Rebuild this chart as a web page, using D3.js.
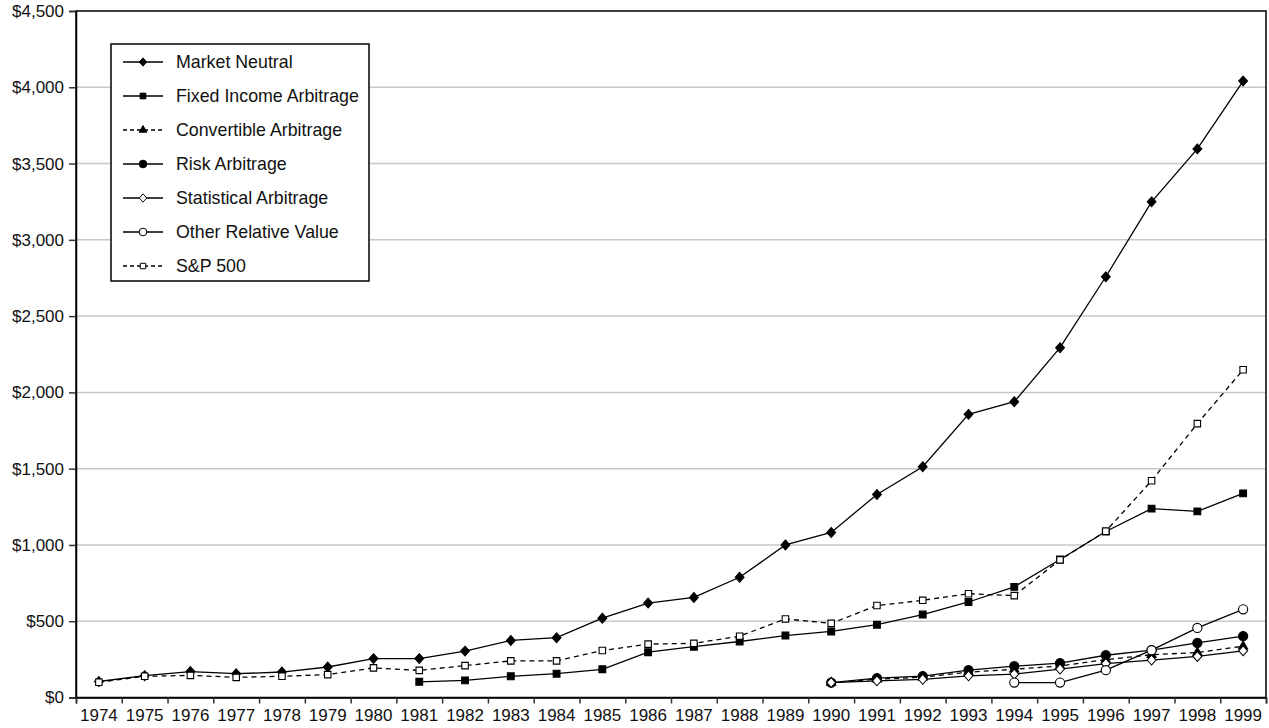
<!DOCTYPE html>
<html>
<head>
<meta charset="utf-8">
<script src="https://cdn.jsdelivr.net/npm/d3@7"></script>
<style>
  html, body { margin: 0; padding: 0; background: #fff; }
  svg { display: block; font-family: "Liberation Sans", Arial, Helvetica, sans-serif; }
</style>
</head>
<body>
<svg id="chart" width="1269" height="728"></svg>
<script>
// ---------- DATA ----------
const years = ["1974","1975","1976","1977","1978","1979","1980","1981","1982","1983","1984","1985","1986","1987","1988","1989","1990","1991","1992","1993","1994","1995","1996","1997","1998","1999"];
const yTicks = [0,500,1000,1500,2000,2500,3000,3500,4000,4500];

const marketNeutral = [105,143,170,156,167,200,255,255,304,374,392,520,619,656,788,1000,1082,1331,1513,1856,1939,2293,2758,3249,3596,4041];
const fixedIncomeArb = [null,null,null,null,null,null,null,103,112,139,156,185,297,333,367,406,433,477,544,626,725,905,1088,1238,1220,1338];
const convertibleArb = [null,null,null,null,null,null,null,null,null,null,null,null,null,null,null,null,98,120,133,166,185,207,248,280,295,336];
const riskArb = [null,null,null,null,null,null,null,null,null,null,null,null,null,null,null,null,98,127,140,179,205,225,277,310,358,402];
const statisticalArb = [null,null,null,null,null,null,null,null,null,null,null,null,null,null,null,null,98,109,119,142,153,186,222,245,269,306];
const otherRelativeValue = [null,null,null,null,null,null,null,null,null,null,null,null,null,null,null,null,null,null,null,null,98,98,179,310,456,578];
const sp500 = [100,139,145,132,139,150,194,178,209,240,240,308,350,355,402,515,486,603,637,680,668,902,1090,1421,1795,2148];

const seriesNames = ["Market Neutral","Fixed Income Arbitrage","Convertible Arbitrage","Risk Arbitrage","Statistical Arbitrage","Other Relative Value","S&P 500"];
const seriesValues = [marketNeutral, fixedIncomeArb, convertibleArb, riskArb, statisticalArb, otherRelativeValue, sp500];

// ---------- STYLES ----------
const styles = [
  {symbol: d3.symbolDiamond2, size: 62, fill: "#000", dash: null, scaleX: 0.9},
  {symbol: d3.symbolSquare, size: 46, fill: "#000", dash: null, scaleX: 1},
  {symbol: d3.symbolTriangle, size: 36, fill: "#000", dash: "5,4", scaleX: 1},
  {symbol: d3.symbolCircle, size: 66, fill: "#000", dash: null, scaleX: 1},
  {symbol: d3.symbolDiamond2, size: 62, fill: "#fff", dash: null, scaleX: 0.9},
  {symbol: d3.symbolCircle, size: 66, fill: "#fff", dash: null, scaleX: 1},
  {symbol: d3.symbolSquare, size: 42, fill: "#fff", dash: "5,4", scaleX: 1}
];

const svg = d3.select("#chart");
const mLeft = 76, mRight = 1266, mTop = 11, mBottom = 697.5;
const font = "\"Liberation Sans\", Arial, Helvetica, sans-serif";

const x = d3.scaleBand().domain(years).range([mLeft, mRight]).paddingInner(0).paddingOuter(0);
const xEdges = d3.scaleLinear().domain([0, years.length]).range([mLeft, mRight]);
const y = d3.scaleLinear().domain([0, 4500]).range([mBottom, mTop]);

// gridlines
svg.append("g")
  .selectAll("line")
  .data(yTicks.filter(d => d > 0 && d < 4500))
  .join("line")
  .attr("x1", mLeft).attr("x2", mRight)
  .attr("y1", d => y(d)).attr("y2", d => y(d))
  .attr("stroke", "#c8c8c8").attr("stroke-width", 1.5);

// frame
svg.append("rect")
  .attr("x", mLeft).attr("y", mTop)
  .attr("width", mRight - mLeft).attr("height", mBottom - mTop)
  .attr("fill", "none").attr("stroke", "#000").attr("stroke-width", 1.5);

// y axis
const yAxis = svg.append("g")
  .attr("transform", `translate(${mLeft},0)`)
  .call(d3.axisLeft(y).tickValues(yTicks).tickSize(7).tickPadding(5)
    .tickFormat(d => "$" + d3.format(",")(d)));
yAxis.select(".domain").attr("stroke", "#000").attr("stroke-width", 1.5);
yAxis.selectAll(".tick line").attr("stroke", "#333").attr("stroke-width", 1.5);
yAxis.selectAll("text").attr("font-family", font).attr("font-size", "17px").attr("fill", "#111");

// x axis tick marks at band edges
const xTickAxis = svg.append("g")
  .attr("transform", `translate(0,${mBottom})`)
  .call(d3.axisBottom(xEdges).tickValues(d3.range(0, years.length + 1)).tickSize(6).tickFormat(""));
xTickAxis.select(".domain").attr("stroke", "#000").attr("stroke-width", 1.5);
xTickAxis.selectAll(".tick line").attr("stroke", "#333").attr("stroke-width", 1.5);

// x axis labels at band centers
const xLabelAxis = svg.append("g")
  .attr("transform", `translate(0,${mBottom})`)
  .call(d3.axisBottom(x).tickSize(0).tickPadding(11));
xLabelAxis.select(".domain").remove();
xLabelAxis.selectAll("text").attr("font-family", font).attr("font-size", "17px").attr("fill", "#111");

// series
const line = d3.line()
  .defined(d => d.v !== null)
  .x(d => x(d.year) + x.bandwidth() / 2)
  .y(d => y(d.v));

seriesValues.forEach((vals, i) => {
  const st = styles[i];
  const pts = years.map((yr, j) => ({year: yr, v: vals[j]}));
  const g = svg.append("g");
  g.append("path")
    .datum(pts)
    .attr("d", line)
    .attr("fill", "none")
    .attr("stroke", "#000")
    .attr("stroke-width", 1.3)
    .attr("stroke-dasharray", st.dash);
  g.selectAll("path.mark")
    .data(pts.filter(d => d.v !== null))
    .join("path")
    .attr("class", "mark")
    .attr("d", d3.symbol().type(st.symbol).size(st.size))
    .attr("transform", d => `translate(${x(d.year) + x.bandwidth() / 2},${y(d.v)}) scale(${st.scaleX},1)`)
    .attr("fill", st.fill)
    .attr("stroke", "#000")
    .attr("stroke-width", 1.1);
});

// legend
const lg = svg.append("g");
lg.append("rect")
  .attr("x", 111).attr("y", 44).attr("width", 258).attr("height", 237)
  .attr("fill", "#fff").attr("stroke", "#000").attr("stroke-width", 1.5);

seriesNames.forEach((name, i) => {
  const st = styles[i];
  const cy = 62 + i * 34;
  const item = lg.append("g");
  item.append("line")
    .attr("x1", 123).attr("x2", 163).attr("y1", cy).attr("y2", cy)
    .attr("stroke", "#000").attr("stroke-width", 1.3)
    .attr("stroke-dasharray", st.dash ? "4,3" : null);
  item.append("path")
    .attr("d", d3.symbol().type(st.symbol).size(st.size * 0.7))
    .attr("transform", `translate(143,${cy}) scale(${st.scaleX},1)`)
    .attr("fill", st.fill).attr("stroke", "#000").attr("stroke-width", 1);
  item.append("text")
    .attr("x", 176).attr("y", cy)
    .attr("dy", "0.35em")
    .attr("font-family", font).attr("font-size", "17.8px").attr("fill", "#111")
    .text(name);
});
</script>
</body>
</html>
